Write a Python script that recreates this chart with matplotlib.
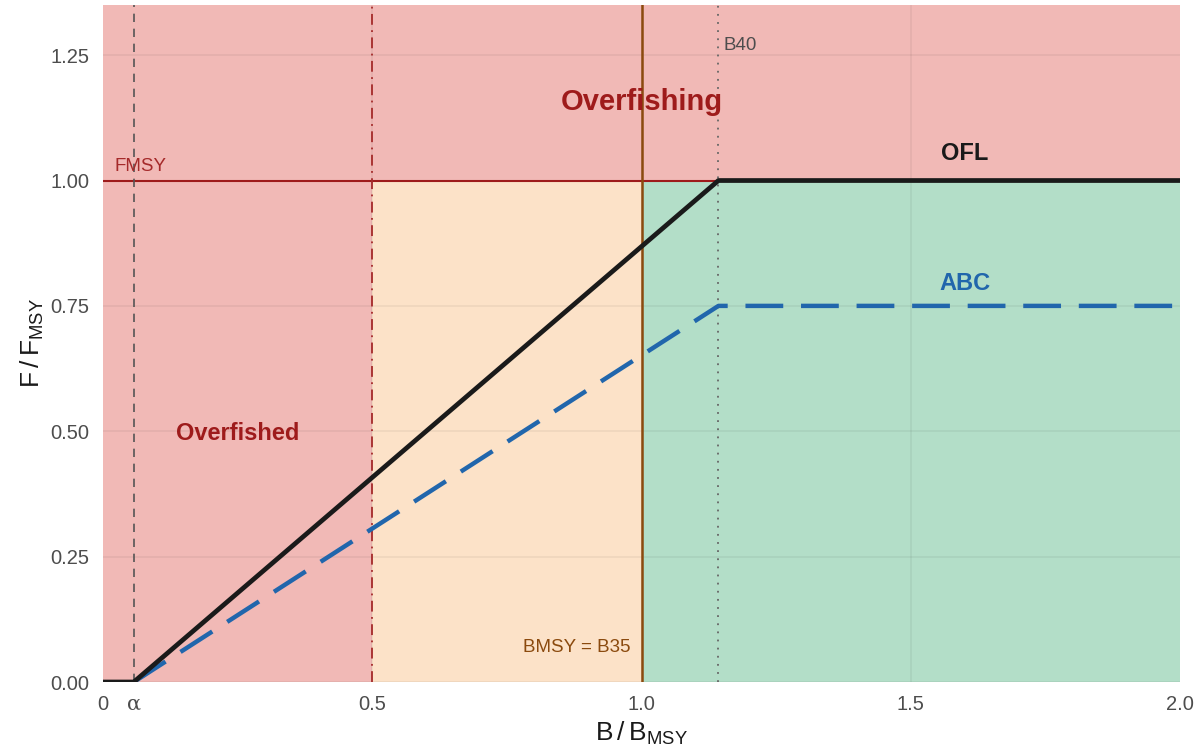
import numpy as np
import matplotlib
matplotlib.use("Agg")
import matplotlib.pyplot as plt

plt.rcParams['font.family'] = ['Liberation Sans', 'DejaVu Sans']
plt.rcParams['mathtext.fontset'] = 'custom'
plt.rcParams['mathtext.rm'] = 'Liberation Sans'

# Harvest control rule parameters (relative to BMSY = B35)
b40 = 40 / 35           # B40 expressed as a fraction of BMSY
alpha = 0.05 * b40      # alpha = 0.05 on the B40 scale
abc_frac = 0.75
x_max = 2.0
y_max = 1.35

b_ratio = np.array([0.0, alpha, b40, x_max])
ofl = np.array([0.0, 0.0, 1.0, 1.0])
abc = abc_frac * ofl

x_ticks = [0, alpha, 0.5, 1.0, 1.5, 2.0]
x_tick_labels = ["0", "α", "0.5", "1.0", "1.5", "2.0"]
y_ticks = [0.0, 0.25, 0.5, 0.75, 1.0, 1.25]

red_fill = "#F1B9B6"
peach_fill = "#FCE2C8"
green_fill = "#B3DEC8"
dark_red = "#9E1B1B"

fig = plt.figure(figsize=(11.97, 7.52), dpi=100)
ax = fig.add_axes([103 / 1197, 70 / 752, (1180 - 103) / 1197, (682 - 5) / 752])

# Status zones
ax.fill_between([0, 0.5], 0, y_max, color=red_fill, lw=0, zorder=0)
ax.fill_between([0.5, x_max], 1.0, y_max, color=red_fill, lw=0, zorder=0)
ax.fill_between([0.5, 1.0], 0, 1.0, color=peach_fill, lw=0, zorder=0)
ax.fill_between([1.0, x_max], 0, 1.0, color=green_fill, lw=0, zorder=0)

# Grid over the zones
for yv in y_ticks:
    ax.axhline(yv, color=(0, 0, 0, 0.06), lw=1.1, zorder=0.5)
for xv in [0.5, 1.0, 1.5]:
    ax.axvline(xv, color=(0, 0, 0, 0.06), lw=1.1, zorder=0.5)

# Reference lines
ax.axhline(1.0, color=dark_red, lw=1.5, zorder=2)
ax.axvline(alpha, color="#555555", lw=1.2, ls=(0, (5, 4)), zorder=2)
ax.axvline(0.5, color="#A52A2A", lw=1.3, ls=(0, (6, 3, 1, 3)), zorder=2)
ax.axvline(1.0, color="#8B4A0E", lw=1.8, zorder=2)
ax.axvline(b40, color="#666666", lw=1.3, ls=(0, (1, 3.5)), zorder=2)

# Control rules
ax.plot(b_ratio, ofl, color="#1A1A1A", lw=3.4, solid_capstyle="butt", zorder=4)
ax.plot(b_ratio[1:], abc[1:], color="#2166AC", lw=3.2, ls=(0, (8.5, 4)), zorder=3)

# Annotations
ax.text(1.0, 1.157, "Overfishing", color=dark_red, fontsize=21, fontweight="bold",
        ha="center", va="center", zorder=5)
ax.text(0.25, 0.496, "Overfished", color=dark_red, fontsize=17, fontweight="bold",
        ha="center", va="center", zorder=5)
ax.text(1.6, 1.053, "OFL", color="#1A1A1A", fontsize=17, fontweight="bold",
        ha="center", va="center", zorder=5)
ax.text(1.6, 0.795, "ABC", color="#2166AC", fontsize=17, fontweight="bold",
        ha="center", va="center", zorder=5)
ax.text(0.021, 1.012, "FMSY", color="#A52A2A", fontsize=13.5,
        ha="left", va="bottom", zorder=5)
ax.text(b40 + 0.01, 1.27, "B40", color="#4D4D4D", fontsize=13.5,
        ha="left", va="center", zorder=5)
ax.text(0.98, 0.068, "BMSY = B35", color="#8B4A0E", fontsize=13.5,
        ha="right", va="center", zorder=5)

ax.set_xlim(0, x_max)
ax.set_ylim(0, y_max)
ax.set_xticks(x_ticks)
ax.set_xticklabels(x_tick_labels)
ax.set_yticks(y_ticks)
ax.set_yticklabels([f"{v:.2f}" for v in y_ticks])
ax.tick_params(length=0, labelsize=14.5, labelcolor="#4D4D4D")
ax.tick_params(axis="x", pad=9)
ax.tick_params(axis="y", pad=10)
alpha_label = ax.get_xticklabels()[1]
alpha_label.set_fontfamily(["DejaVu Serif"])
alpha_label.set_fontsize(15)
for sp in ax.spines.values():
    sp.set_visible(False)

ax.set_xlabel(r"B$\,$/$\,$B$_{\mathrm{MSY}}$", fontsize=19, color="#1A1A1A", labelpad=4)
ax.set_ylabel(r"F$\,$/$\,$F$_{\mathrm{MSY}}$", fontsize=19, color="#1A1A1A", labelpad=3)

fig.savefig("out.png", dpi=100)
